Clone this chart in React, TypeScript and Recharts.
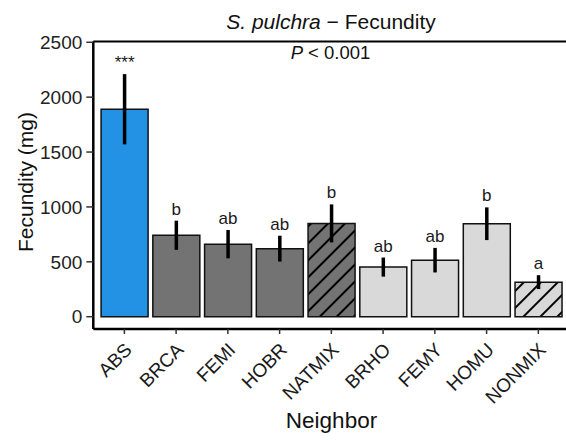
import { Bar, BarChart, Cell, ErrorBar, LabelList, ReferenceLine, XAxis, YAxis } from "recharts";

const categories = ["ABS", "BRCA", "FEMI", "HOBR", "NATMIX", "BRHO", "FEMY", "HOMU", "NONMIX"];
const fecundity = [1890, 742, 661, 620, 850, 452, 515, 847, 315];
const stdErr = [320, 133, 129, 118, 173, 87, 112, 149, 63];
const letters = ["***", "b", "ab", "ab", "b", "ab", "ab", "b", "a"];
const groups = ["absent", "native", "native", "native", "nativeMix", "exotic", "exotic", "exotic", "exoticMix"];
const yTicks = [0, 500, 1000, 1500, 2000, 2500];
const yDomain: [number, number] = [-112, 2507];

const FONT = "'Liberation Sans', Arial, Helvetica, sans-serif";

const groupFill: Record<string, string> = {
  absent: "#2391e4",
  native: "#737373",
  nativeMix: "url(#hatchDark)",
  exotic: "#d9d9d9",
  exoticMix: "url(#hatchLight)",
};

const data = categories.map((name, i) => ({
  name,
  mean: fecundity[i],
  se: stdErr[i],
}));

function GroupLetter(props: any) {
  const { x, y, width, height, index } = props;
  const pxPerUnit = height / fecundity[index];
  const errTop = y - stdErr[index] * pxPerUnit;
  return (
    <text
      x={x + width / 2}
      y={errTop - 6}
      textAnchor="middle"
      fontFamily={FONT}
      fontSize={17}
      fill="#1a1a1a"
    >
      {letters[index]}
    </text>
  );
}

function NeighborTick(props: any) {
  const { x, y, payload } = props;
  return (
    <g transform={`translate(${x + 8.7},${y + 15})`}>
      <text transform="rotate(-45)" textAnchor="end" fontFamily={FONT} fontSize={19} fill="#1a1a1a">
        {payload.value}
      </text>
    </g>
  );
}

const textBase: React.CSSProperties = {
  position: "absolute",
  fontFamily: FONT,
  color: "#111",
  lineHeight: 1,
  whiteSpace: "nowrap",
};

export default function App() {
  return (
    <div style={{ position: "absolute", left: 0, top: 0, width: 566, height: 440, overflow: "hidden", background: "#fff" }}>
      <BarChart
        width={580}
        height={440}
        data={data}
        margin={{ top: 41.5, right: 10.6, bottom: 0, left: 0 }}
        barCategoryGap="5%"
      >
        <defs>
          <pattern id="hatchDark" patternUnits="userSpaceOnUse" width={12} height={12} patternTransform="rotate(45)">
            <rect width={12} height={12} fill="#737373" />
            <line x1={6} y1={0} x2={6} y2={12} stroke="#000" strokeWidth={2} />
          </pattern>
          <pattern id="hatchLight" patternUnits="userSpaceOnUse" width={12} height={12} patternTransform="rotate(45)">
            <rect width={12} height={12} fill="#d9d9d9" />
            <line x1={6} y1={0} x2={6} y2={12} stroke="#000" strokeWidth={2} />
          </pattern>
        </defs>
        <XAxis
          dataKey="name"
          height={111}
          padding={{ left: 5.2, right: 5.2 }}
          tickSize={5}
          tickMargin={2}
          tickLine={{ stroke: "#333", strokeWidth: 1.5 }}
          axisLine={{ stroke: "#000", strokeWidth: 2.5 }}
          tick={<NeighborTick />}
          interval={0}
        />
        <YAxis
          type="number"
          domain={yDomain}
          ticks={yTicks}
          allowDataOverflow
          width={93.3}
          tickSize={7}
          tickMargin={4}
          tickLine={{ stroke: "#333", strokeWidth: 1.5 }}
          axisLine={{ stroke: "#000", strokeWidth: 2.5 }}
          tick={{ fontFamily: FONT, fontSize: 19, fill: "#222" }}
        />
        {/* panel border along the top */}
        <ReferenceLine y={yDomain[1]} stroke="#000" strokeWidth={2} />
        <Bar dataKey="mean" stroke="#111" strokeWidth={1.5} isAnimationActive={false}>
          {data.map((d, i) => (
            <Cell key={d.name} fill={groupFill[groups[i]]} />
          ))}
          <ErrorBar dataKey="se" width={0} strokeWidth={3.5} stroke="#000" direction="y" />
          <LabelList dataKey="mean" content={<GroupLetter />} />
        </Bar>
      </BarChart>
      <div style={{ ...textBase, left: 331, top: 20.5, fontSize: 21, transform: "translate(-50%,-50%)" }}>
        <i>S. pulchra</i> − Fecundity
      </div>
      <div style={{ ...textBase, left: 330.5, top: 53.3, fontSize: 18.5, transform: "translate(-50%,-50%)" }}>
        <i>P</i> &lt; 0.001
      </div>
      <div style={{ ...textBase, left: 331.5, top: 420.5, fontSize: 22.5, transform: "translate(-50%,-50%)" }}>
        Neighbor
      </div>
      <div
        style={{
          ...textBase,
          left: 25,
          top: 182,
          fontSize: 21,
          transform: "translate(-50%,-50%) rotate(-90deg)",
        }}
      >
        Fecundity (mg)
      </div>
    </div>
  );
}
